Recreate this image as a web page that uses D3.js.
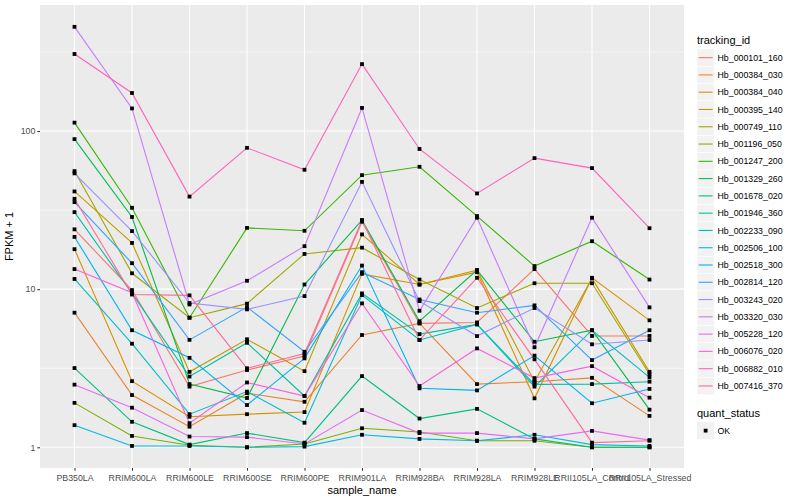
<!DOCTYPE html>
<html><head><meta charset="utf-8">
<script src="https://cdn.jsdelivr.net/npm/d3@7"></script>
<style>body{margin:0;background:#fff}svg{display:block}text{font-family:"Liberation Sans",Arial,Helvetica,sans-serif}</style>
</head><body><svg id="c" width="800" height="500"></svg>
<script>
const samples = ["PB350LA","RRIM600LA","RRIM600LE","RRIM600SE","RRIM600PE","RRIM901LA","RRIM928BA","RRIM928LA","RRIM928LE","RRII105LA_Control","RRII105LA_Stressed"];
const trackingIds = ["Hb_000101_160","Hb_000384_030","Hb_000384_040","Hb_000395_140","Hb_000749_110","Hb_001196_050","Hb_001247_200","Hb_001329_260","Hb_001678_020","Hb_001946_360","Hb_002233_090","Hb_002506_100","Hb_002518_300","Hb_002814_120","Hb_003243_020","Hb_003320_030","Hb_005228_120","Hb_006076_020","Hb_006882_010","Hb_007416_370"];
// FPKM + 1 per sample
const hb000101_160 = [23.9, 9.87, 2.42, 3.08, 3.78, 26.7, 6.08, 6.16, 13.4, 5.06, 5.06];
const hb000384_030 = [7.1, 2.14, 1.35, 2.2, 1.94, 5.13, 6.08, 2.51, 2.6, 2.75, 1.58];
const hb000384_040 = [17.9, 2.62, 1.56, 1.62, 1.67, 12.5, 10.7, 12.8, 2.04, 11.8, 6.35];
const hb000395_140 = [41.5, 19.6, 3.0, 4.82, 3.03, 22.2, 10.7, 13.2, 2.6, 11.7, 3.0];
const hb000749_110 = [55.8, 12.6, 6.6, 8.1, 16.7, 18.3, 11.5, 7.6, 10.9, 10.9, 2.9];
const hb001196_050 = [1.91, 1.18, 1.03, 1.0, 1.05, 1.32, 1.25, 1.1, 1.1, 1.0, 1.0];
const hb001247_200 = [113, 32.7, 6.6, 24.4, 23.4, 52.6, 59.4, 29, 14, 20.1, 11.5];
const hb001329_260 = [88.9, 28.6, 2.51, 2.05, 10.7, 27.3, 6.27, 13.2, 4.65, 5.5, 1.73];
const hb001678_020 = [3.17, 1.45, 1.04, 1.23, 1.07, 2.82, 1.52, 1.75, 1.13, 1.0, 1.0];
const hb001946_360 = [30.7, 9.4, 2.8, 4.58, 2.11, 9.4, 5.2, 5.99, 2.5, 2.51, 2.6];
const hb002233_090 = [11.6, 4.52, 1.62, 2.25, 1.43, 9.18, 4.77, 5.99, 2.42, 5.5, 2.77];
const hb002506_100 = [1.38, 1.02, 1.02, 1.0, 1.01, 1.2, 1.13, 1.1, 1.2, 1.04, 1.02];
const hb002518_300 = [21.4, 5.5, 3.68, 1.85, 3.65, 14.1, 2.36, 2.29, 3.8, 1.9, 2.34];
const hb002814_120 = [35.5, 14.6, 4.78, 7.7, 4.02, 12.8, 8.6, 7.1, 7.9, 3.56, 5.5];
const hb003243_020 = [54, 23.3, 8.17, 7.45, 9.04, 47.7, 8.4, 5.05, 7.6, 4.48, 4.77];
const hb003320_030 = [456, 139, 8.0, 11.3, 18.7, 140, 7.3, 28.3, 4.29, 28.3, 7.67];
const hb005228_120 = [2.49, 1.78, 1.17, 1.16, 1.05, 1.72, 1.23, 1.23, 1.13, 1.27, 1.11];
const hb006076_020 = [13.4, 9.5, 1.42, 2.57, 2.11, 8.13, 2.44, 4.22, 2.74, 3.26, 2.06];
const hb006882_010 = [307, 174, 38.5, 78.3, 56.9, 265, 77, 40.3, 67.4, 58.3, 24.3];
const hb007416_370 = [37.3, 9.25, 9.14, 3.16, 3.92, 27.3, 4.77, 11.8, 3.6, 1.07, 1.1];
const seriesValues = [hb000101_160,hb000384_030,hb000384_040,hb000395_140,hb000749_110,hb001196_050,hb001247_200,hb001329_260,hb001678_020,hb001946_360,hb002233_090,hb002506_100,hb002518_300,hb002814_120,hb003243_020,hb003320_030,hb005228_120,hb006076_020,hb006882_010,hb007416_370];
const yTicks = [1, 10, 100];
const yMinor = [Math.sqrt(10), Math.sqrt(1000), Math.sqrt(100000)];
const quantLevels = ["OK"];

// ggplot2 hue palette (polar LUV)
function hclLuv(h, c, l) {
  const hr = h * Math.PI / 180, u = c * Math.cos(hr), v = c * Math.sin(hr);
  const Xn = 95.047, Yn = 100, Zn = 108.883;
  const den = Xn + 15 * Yn + 3 * Zn, un = 4 * Xn / den, vn = 9 * Yn / den;
  const Y = Yn * (l > 8 ? Math.pow((l + 16) / 116, 3) : l / 903.3);
  const up = u / (13 * l) + un, vp = v / (13 * l) + vn;
  const X = Y * 9 * up / (4 * vp), Z = Y * (12 - 3 * up - 20 * vp) / (4 * vp);
  const x = X / 100, y = Y / 100, z = Z / 100;
  let r = 3.240479 * x - 1.537150 * y - 0.498535 * z;
  let g = -0.969256 * x + 1.875992 * y + 0.041556 * z;
  let b = 0.055648 * x - 0.204043 * y + 1.057311 * z;
  const gam = t => { t = t <= 0.0031308 ? 12.92 * t : 1.055 * Math.pow(t, 1 / 2.4) - 0.055; return Math.round(255 * Math.max(0, Math.min(1, t))); };
  return d3.rgb(gam(r), gam(g), gam(b)).formatHex();
}
const n = trackingIds.length;
const colors = trackingIds.map((d, i) => hclLuv(15 + 360 / n * i, 100, 65));
const color = d3.scaleOrdinal().domain(trackingIds).range(colors);

const svg = d3.select("#c");
const L = 40, R = 684, T = 5, B = 468;
const x = d3.scalePoint().domain(samples).range([L, R]).padding(0.6);
const y = d3.scaleLog().domain([Math.pow(10, -0.1309), Math.pow(10, 2.797)]).range([B, T]);

svg.append("rect").attr("x", L).attr("y", T).attr("width", R - L).attr("height", B - T).attr("fill", "#EBEBEB");
const g = svg.append("g");
g.selectAll(".ymin").data(yMinor).join("line").attr("x1", L).attr("x2", R).attr("y1", d => y(d)).attr("y2", d => y(d)).attr("stroke", "#fff").attr("stroke-width", 0.55);
g.selectAll(".ymaj").data(yTicks).join("line").attr("x1", L).attr("x2", R).attr("y1", d => y(d)).attr("y2", d => y(d)).attr("stroke", "#fff").attr("stroke-width", 1.1);
g.selectAll(".xmaj").data(samples).join("line").attr("y1", T).attr("y2", B).attr("x1", d => x(d)).attr("x2", d => x(d)).attr("stroke", "#fff").attr("stroke-width", 1.1);

const series = trackingIds.map((id, i) => ({ id, values: seriesValues[i].map((v, j) => ({ s: samples[j], v })) }));
const line = d3.line().x(d => x(d.s)).y(d => y(d.v));
svg.append("g").selectAll("path").data(series).join("path").attr("d", d => line(d.values)).attr("fill", "none").attr("stroke", d => color(d.id)).attr("stroke-width", 1.1);
const pts = series.flatMap(d => d.values);
svg.append("g").selectAll("rect").data(pts).join("rect").attr("x", d => x(d.s) - 1.9).attr("y", d => y(d.v) - 1.9).attr("width", 3.8).attr("height", 3.8).attr("fill", "#000");

// axes
const ya = svg.append("g").attr("transform", `translate(${L},0)`).call(d3.axisLeft(y).tickValues(yTicks).tickFormat(d3.format("d")).tickSize(2.7).tickPadding(2));
const xa = svg.append("g").attr("transform", `translate(0,${B})`).call(d3.axisBottom(x).tickSize(2.7).tickPadding(2));
[ya, xa].forEach(a => { a.select(".domain").remove(); a.selectAll(".tick line").attr("stroke", "#333").attr("stroke-width", 1.07); a.selectAll("text").attr("fill", "#4D4D4D").attr("font-size", 8.8).style("font-family", '"Liberation Sans",Arial,sans-serif'); });
xa.selectAll("text").attr("dy", "0.9em");
svg.append("text").attr("x", (L + R) / 2).attr("y", 494).attr("text-anchor", "middle").attr("font-size", 11).attr("fill", "#000").text("sample_name");
svg.append("text").attr("transform", `translate(13,${(T + B) / 2}) rotate(-90)`).attr("text-anchor", "middle").attr("font-size", 11).attr("fill", "#000").text("FPKM + 1");

// legends
const lg = svg.append("g");
lg.append("text").attr("x", 697).attr("y", 44).attr("font-size", 11).text("tracking_id");
const kh = 17.28, k0 = 49;
const ent = lg.selectAll(".e").data(trackingIds).join("g").attr("transform", (d, i) => `translate(697,${k0 + i * kh})`);
ent.append("rect").attr("width", 17.28).attr("height", 17.28).attr("fill", "#F2F2F2").attr("stroke", "#fff").attr("stroke-width", 0.5);
ent.append("line").attr("x1", 1.7).attr("x2", 15.6).attr("y1", 8.64).attr("y2", 8.64).attr("stroke", d => color(d)).attr("stroke-width", 1.1);
ent.append("text").attr("x", 20.5).attr("y", 8.64).attr("dy", "0.35em").attr("font-size", 8.8).text(d => d);
lg.append("text").attr("x", 697).attr("y", 417).attr("font-size", 11).text("quant_status");
const q = lg.selectAll(".q").data(quantLevels).join("g").attr("transform", (d, i) => `translate(697,${422 + i * kh})`);
q.append("rect").attr("width", 17.28).attr("height", 17.28).attr("fill", "#F2F2F2");
q.append("rect").attr("x", 8.64 - 1.9).attr("y", 8.64 - 1.9).attr("width", 3.8).attr("height", 3.8).attr("fill", "#000");
q.append("text").attr("x", 20.5).attr("y", 8.64).attr("dy", "0.35em").attr("font-size", 8.8).text(d => d);
</script></body></html>
